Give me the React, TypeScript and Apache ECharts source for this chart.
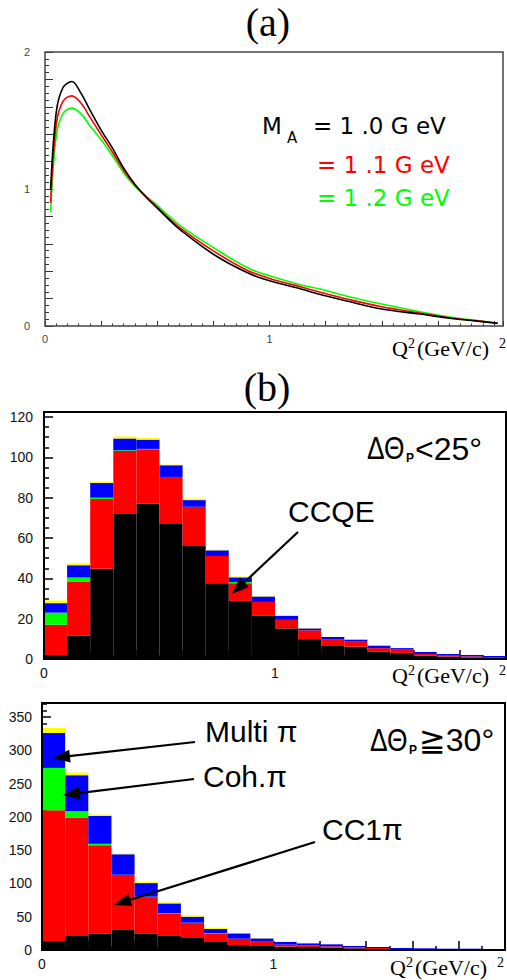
import React, { useEffect, useRef } from 'react';
import * as echarts from 'echarts';

// ---------- Panel (a): dsigma/dQ2 curves ----------
const aQ2 = [0.025, 0.05, 0.08, 0.12, 0.16, 0.2, 0.25, 0.3, 0.35, 0.4, 0.45, 0.5, 0.55, 0.6, 0.75, 0.9, 1.0, 1.14, 1.23, 1.35, 1.5, 1.67, 1.81, 1.9, 2.016];
const aMA10 = [1.0, 1.56, 1.74, 1.785, 1.70, 1.578, 1.43, 1.30, 1.154, 1.035, 0.94, 0.86, 0.78, 0.705, 0.524, 0.39, 0.33, 0.27, 0.228, 0.18, 0.124, 0.087, 0.055, 0.04, 0.02];
const aMA11 = [0.90, 1.47, 1.64, 1.68, 1.627, 1.525, 1.396, 1.27, 1.137, 1.03, 0.945, 0.868, 0.79, 0.718, 0.548, 0.407, 0.347, 0.285, 0.245, 0.195, 0.14, 0.095, 0.058, 0.042, 0.02];
const aMA12 = [0.83, 1.384, 1.55, 1.59, 1.55, 1.462, 1.36, 1.244, 1.118, 1.02, 0.948, 0.88, 0.805, 0.735, 0.572, 0.427, 0.366, 0.30, 0.268, 0.215, 0.16, 0.104, 0.063, 0.045, 0.02];
const aXLabels = [0, 1];
const aYLabels = [0, 1, 2];

// ---------- Panel (b): stacked histograms, bins of 0.1 (GeV/c)^2 ----------
const bins = ['0.05', '0.15', '0.25', '0.35', '0.45', '0.55', '0.65', '0.75', '0.85', '0.95',
  '1.05', '1.15', '1.25', '1.35', '1.45', '1.55', '1.65', '1.75', '1.85', '1.95'];
const bXLabels = [0, 1];

// dTheta_p < 25 deg
const b1CCQE = [2, 11.7, 44.7, 71.9, 77.1, 66.9, 56, 37.6, 28.8, 21.4, 15.2, 9.9, 6.8, 6.1, 3.5, 3, 1.6, 1.2, 0.8, 0.5];
const b1CC1pi = [15, 26.7, 34.6, 31.3, 26.9, 23.4, 19.5, 13.5, 8.8, 6.9, 4.2, 4.3, 2.8, 2.5, 1.9, 1.6, 0.9, 0.8, 0.5, 0.5];
const b1Coh = [6, 2, 0.7, 0.3, 0.2, 0, 0, 0, 0.6, 0, 0, 0, 0, 0, 0, 0, 0, 0, 0, 0];
const b1Multi = [4.7, 6.1, 7.3, 5.8, 4.6, 5.8, 3.3, 2.8, 2.3, 2.7, 2, 1, 1.3, 1, 1.2, 0.8, 1, 0.5, 0.7, 0.5];
const b1Other = [1.3, 1, 0.7, 1, 0.8, 0.3, 0.8, 0.3, 0.4, 0.2, 0.2, 0.2, 0.1, 0.1, 0, 0, 0, 0, 0, 0];

// dTheta_p >= 30 deg
const b2CCQE = [13.5, 21, 25, 30, 25, 22, 18, 12, 7.5, 6, 5, 4.5, 3.5, 2.5, 1.5, 1, 1, 0.8, 0.7, 0.5];
const b2CC1pi = [196.5, 177.5, 132.5, 82.5, 54.5, 33, 22.5, 13, 9.5, 6.5, 3, 2.5, 2, 1.5, 1.5, 0.5, 0.5, 0.4, 0.4, 0.5];
const b2Coh = [63.5, 10, 2, 0.5, 0.5, 0.5, 0.5, 0.5, 0, 0, 0, 0, 0, 0, 0, 0, 0, 0, 0, 0];
const b2Multi = [52.5, 54, 42, 31, 20.5, 14.5, 9, 6, 8, 5, 4, 3, 3, 2, 1.5, 1.5, 1, 0.8, 0.9, 0.5];
const b2Other = [7.5, 4, 2, 1, 1.5, 1.5, 2, 2, 0.5, 0.5, 0.3, 0.2, 0, 0, 0, 0, 0, 0, 0, 0];

const SANS = '"Liberation Sans", Arial, "DejaVu Sans", "Noto Sans CJK JP", sans-serif';
const SERIF = '"Liberation Serif", "Times New Roman", serif';
const DJV = '"DejaVu Sans", sans-serif';

const pickLabel = (list: number[]) => (v: number) => {
  const hit = list.find((t) => Math.abs(t - v) < 1e-6);
  return hit === undefined ? '' : String(hit);
};

const txt = (text: string, x: number, y: number, font: string, fill = '#000', align = 'left', scaleX = 1) => ({
  type: 'text', x, y, scaleX, z: 120, silent: true,
  style: { text, font, fill, align, verticalAlign: 'middle' },
});

const arrow = (x1: number, y1: number, x2: number, y2: number, len = 17, hw = 6.5) => {
  const dx = x2 - x1, dy = y2 - y1;
  const L = Math.hypot(dx, dy);
  const ux = dx / L, uy = dy / L;
  const bx = x2 - ux * len, by = y2 - uy * len;
  return [
    { type: 'line', z: 120, silent: true, shape: { x1, y1, x2: bx + ux * 3, y2: by + uy * 3 }, style: { stroke: '#000', lineWidth: 2.2 } },
    { type: 'polygon', z: 120, silent: true, shape: { points: [[x2, y2], [bx - uy * hw, by + ux * hw], [bx + uy * hw, by - ux * hw]] }, style: { fill: '#000' } },
  ];
};

const q2Title = (x0: number, yc: number) => [
  txt('Q', x0, yc, `22px ${SERIF}`),
  txt('2', x0 + 16, yc - 5, `14px ${SERIF}`),
  txt('(GeV/c)', x0 + 25, yc, `22px ${SERIF}`),
  txt('2', x0 + 107, yc - 5, `14px ${SERIF}`),
];

const frame = (x: number, y: number, w: number, h: number, color: string, lw: number) => ({
  type: 'rect', z: 115, silent: true, shape: { x, y, width: w, height: h },
  style: { fill: 'none', stroke: color, lineWidth: lw },
});

const GA = { left: 45, top: 52, width: 458, height: 274 };
const GB1 = { left: 44, top: 412, width: 462, height: 247 };
const GB2 = { left: 42, top: 703, width: 463, height: 247 };

export default function App() {
  const ref = useRef<HTMLDivElement>(null);
  useEffect(() => {
    if (!ref.current) return;
    const chart = echarts.init(ref.current, undefined, { renderer: 'svg' });

    const tickA = { color: '#333', width: 1 };
    const tickB = { color: '#000', width: 1.5 };
    const labelB = { color: '#111', fontSize: 14, fontFamily: SANS };

    const barSeries = (name: string, data: number[], color: string, xi: number, yi: number, stack: string) => ({
      name, type: 'bar', data, stack, xAxisIndex: xi, yAxisIndex: yi,
      barCategoryGap: '0%', barGap: '0%',
      itemStyle: { color }, emphasis: { disabled: true }, z: 3,
    });
    const lineSeries = (name: string, ys: number[], color: string) => ({
      name, type: 'line', xAxisIndex: 0, yAxisIndex: 0, smooth: 0.35,
      data: aQ2.map((x, i) => [x, ys[i]]), showSymbol: false,
      lineStyle: { color, width: 1.6 }, itemStyle: { color }, emphasis: { disabled: true }, z: 3,
    });
    const bValueX = (gridIndex: number) => ({
      type: 'value', gridIndex, position: 'bottom', min: 0, max: 2, interval: 0.2,
      axisLine: { show: false }, splitLine: { show: false },
      axisTick: { inside: true, length: 9, lineStyle: tickB },
      minorTick: { show: true, splitNumber: 2, length: 4, lineStyle: tickB },
      axisLabel: { formatter: pickLabel(bXLabels), showMaxLabel: false, ...labelB, margin: 7 },
    });

    const option: any = {
      animation: false,
      backgroundColor: '#fff',
      grid: [
        { ...GA, containLabel: false },
        { ...GB1, containLabel: false },
        { ...GB2, containLabel: false },
      ],
      xAxis: [
        {
          type: 'value', gridIndex: 0, position: 'bottom', min: 0, max: 2.04, interval: 0.25,
          axisLine: { show: false }, splitLine: { show: false },
          axisTick: { inside: true, length: 5, lineStyle: tickA },
          minorTick: { show: true, splitNumber: 5, length: 2.5, lineStyle: tickA },
          axisLabel: { formatter: pickLabel(aXLabels), showMaxLabel: false, color: '#444', fontSize: 11, fontFamily: SANS, margin: 7 },
        },
        { type: 'category', gridIndex: 1, position: 'top', data: bins, show: false, boundaryGap: true },
        bValueX(1),
        { type: 'category', gridIndex: 2, position: 'top', data: bins, show: false, boundaryGap: true },
        bValueX(2),
      ],
      yAxis: [
        {
          type: 'value', gridIndex: 0, min: 0, max: 2, interval: 0.2,
          axisLine: { show: false }, splitLine: { show: false },
          axisTick: { inside: true, length: 8, lineStyle: tickA },
          minorTick: { show: true, splitNumber: 4, length: 4, lineStyle: tickA },
          axisLabel: { formatter: pickLabel(aYLabels), color: '#444', fontSize: 11, fontFamily: SANS, margin: 15 },
        },
        {
          type: 'value', gridIndex: 1, min: 0, max: 122.5, interval: 20,
          axisLine: { show: false }, splitLine: { show: false },
          axisTick: { inside: true, length: 9, lineStyle: tickB },
          minorTick: { show: true, splitNumber: 4, length: 5, lineStyle: tickB },
          axisLabel: { showMaxLabel: false, ...labelB, margin: 11 },
        },
        {
          type: 'value', gridIndex: 2, min: 0, max: 371, interval: 50,
          axisLine: { show: false }, splitLine: { show: false },
          axisTick: { inside: true, length: 9, lineStyle: tickB },
          minorTick: { show: true, splitNumber: 5, length: 5, lineStyle: tickB },
          axisLabel: { showMaxLabel: false, ...labelB, margin: 10 },
        },
      ],
      series: [
        lineSeries('MA=1.2', aMA12, '#00ff00'),
        lineSeries('MA=1.1', aMA11, '#ff0000'),
        lineSeries('MA=1.0', aMA10, '#000000'),
        barSeries('CCQE', b1CCQE, '#000000', 1, 1, 'b1'),
        barSeries('CC1pi', b1CC1pi, '#ff0000', 1, 1, 'b1'),
        barSeries('Coh pi', b1Coh, '#00ff00', 1, 1, 'b1'),
        barSeries('Multi pi', b1Multi, '#0000ff', 1, 1, 'b1'),
        barSeries('Other', b1Other, '#ffff00', 1, 1, 'b1'),
        barSeries('CCQE', b2CCQE, '#000000', 3, 2, 'b2'),
        barSeries('CC1pi', b2CC1pi, '#ff0000', 3, 2, 'b2'),
        barSeries('Coh pi', b2Coh, '#00ff00', 3, 2, 'b2'),
        barSeries('Multi pi', b2Multi, '#0000ff', 3, 2, 'b2'),
        barSeries('Other', b2Other, '#ffff00', 3, 2, 'b2'),
      ],
      graphic: [
        frame(GA.left, GA.top, GA.width, GA.height, '#444', 1.5),
        frame(GB1.left, GB1.top, GB1.width, GB1.height, '#000', 2),
        frame(GB2.left, GB2.top, GB2.width, GB2.height, '#000', 2),
        txt('(a)', 268, 22, `40px ${SERIF}`, '#000', 'center'),
        txt('(b)', 267, 387, `40px ${SERIF}`, '#000', 'center'),
        txt('M', 262, 125.5, `23px ${DJV}`, '#000'),
        txt('A', 287, 138, `15px ${DJV}`, '#000'),
        txt('= 1 .0 G eV', 313, 125.5, `23px ${DJV}`, '#000'),
        txt('= 1 .1 G eV', 317, 165, `23px ${DJV}`, '#ff0000'),
        txt('= 1 .2 G eV', 317, 197.5, `23px ${DJV}`, '#00ff00'),
        ...q2Title(392, 348),
        ...q2Title(392, 675),
        ...q2Title(390, 967),
        txt('ΔΘ', 367, 448.5, `31px ${SANS}`, '#000', 'left', 0.85),
        txt('P', 406, 458, `bold 12px ${SANS}`),
        txt('<25°', 415, 448.5, `32px ${SANS}`),
        txt('ΔΘ', 370, 740, `31px ${SANS}`, '#000', 'left', 0.85),
        txt('P', 409, 750, `bold 12px ${SANS}`),
        txt('≧30°', 419, 740, `32px ${SANS}`),
        txt('CCQE', 288, 511, `30px ${SANS}`),
        txt('Multi π', 205, 731, `30px ${SANS}`),
        txt('Coh.π', 203, 776, `30px ${SANS}`),
        txt('CC1π', 322, 829, `30px ${SANS}`),
        ...arrow(298, 532, 232, 594),
        ...arrow(195, 742, 53, 758),
        ...arrow(194, 779, 63, 795),
        ...arrow(315, 842, 114, 905),
      ],
    };
    chart.setOption(option);
    return () => chart.dispose();
  }, []);
  return <div ref={ref} style={{ position: 'absolute', left: 0, top: 0, width: 507, height: 980 }} />;
}
